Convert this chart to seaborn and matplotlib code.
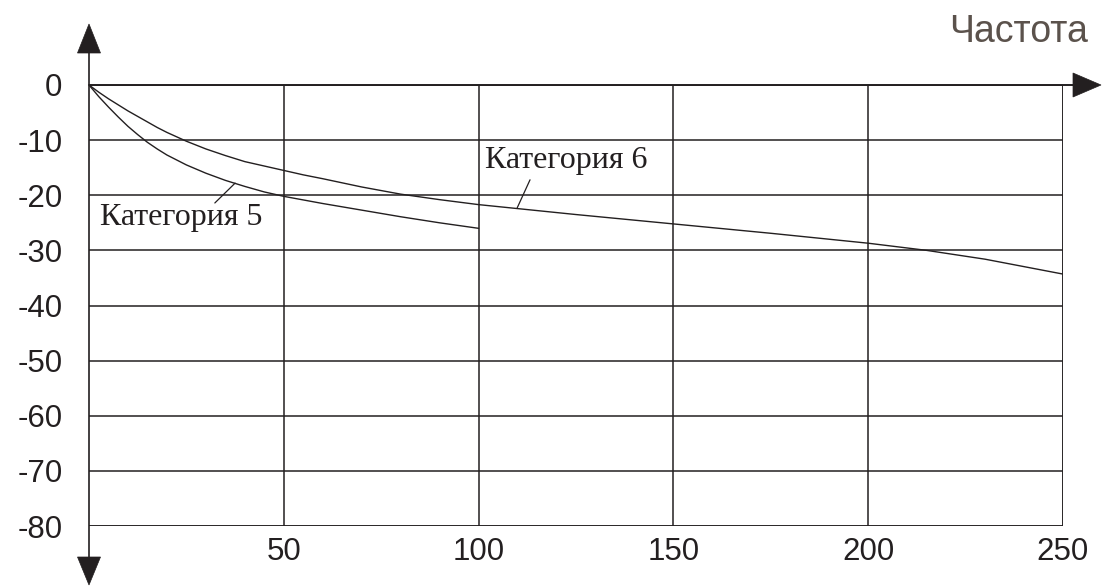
import matplotlib
matplotlib.use("Agg")
import matplotlib.pyplot as plt
from matplotlib.patches import Polygon
from matplotlib.lines import Line2D
import seaborn as sns
import pandas as pd

# ---- data ----
cat5_x = [0, 2.5, 5, 7.5, 10, 12.5, 15, 17.5, 20, 25, 30, 35, 40, 45, 50, 60, 70, 80, 90, 100]
cat5_y = [0, -2.1, -4.0, -5.8, -7.5, -9.0, -10.4, -11.6, -12.7, -14.5, -16.0, -17.3, -18.4, -19.4,
          -20.2, -21.5, -22.7, -23.9, -25.0, -26.0]

cat6_x = [0, 2.5, 5, 7.5, 10, 12.5, 15, 17.5, 20, 25, 30, 35, 40, 45, 50, 55, 60, 70, 80, 90, 100,
          125, 150, 175, 200, 215, 230, 250]
cat6_y = [0, -1.3, -2.5, -3.6, -4.7, -5.7, -6.7, -7.7, -8.6, -10.2, -11.6, -12.8, -13.9, -14.7,
          -15.5, -16.3, -17.0, -18.5, -19.8, -20.8, -21.7, -23.5, -25.2, -26.9, -28.7, -30.0,
          -31.6, -34.3]

x_ticks = [50, 100, 150, 200, 250]
x_labels = ["50", "100", "150", "200", "250"]
y_ticks = [0, -10, -20, -30, -40, -50, -60, -70, -80]
y_labels = ["0", "-10", "-20", "-30", "-40", "-50", "-60", "-70", "-80"]

series_names = ["Категория 5", "Категория 6"]
axis_title = "Частота"

# ---- style ----
sns.set_style("white")
plt.rcParams["font.family"] = ["Liberation Sans", "DejaVu Sans"]

INK = "#231f20"
W, H = 1102, 586
fig = plt.figure(figsize=(W / 100, H / 100), dpi=100)
fig.patch.set_facecolor("white")

def fx(px):
    return px / W

def fy(py):
    return (H - py) / H

ax = fig.add_axes([fx(89), fy(526), (1063 - 89) / W, (526 - 85) / H])

df5 = pd.DataFrame({"x": cat5_x, "y": cat5_y})
df6 = pd.DataFrame({"x": cat6_x, "y": cat6_y})
sns.lineplot(data=df5, x="x", y="y", ax=ax, color=INK, lw=1.0, legend=False, zorder=3)
sns.lineplot(data=df6, x="x", y="y", ax=ax, color=INK, lw=1.0, legend=False, zorder=3)

ax.set_xlim(0, 250)
ax.set_ylim(-80, 0)
ax.set_xticks(x_ticks)
ax.set_xticklabels(x_labels)
ax.set_yticks(y_ticks)
ax.set_yticklabels(y_labels)
ax.set_xlabel("")
ax.set_ylabel("")
for s in ax.spines.values():
    s.set_visible(False)
ax.grid(True, color=INK, lw=1.1)
ax.set_axisbelow(True)
ax.tick_params(axis="both", length=0, labelsize=22.5, colors=INK)
ax.tick_params(axis="y", pad=19)
ax.tick_params(axis="x", pad=8)
ax.axhline(-80, color=INK, lw=1.1, zorder=2)
ax.axvline(250, color=INK, lw=1.1, zorder=2)

# category labels (serif) with leader lines
serif = ["Liberation Serif", "DejaVu Serif"]
ax.text(2.8, -25.4, series_names[0], family=serif, fontsize=23, color=INK, va="baseline", ha="left")
ax.text(101.6, -15.1, series_names[1], family=serif, fontsize=23, color=INK, va="baseline", ha="left")
ax.plot([32.3, 37.5], [-21.4, -17.8], color=INK, lw=0.9, zorder=3)
ax.plot([109.9, 113.2], [-22.3, -17.2], color=INK, lw=0.9, zorder=3)

# axes with arrows in figure pixel coords
fig.add_artist(Line2D([fx(89), fx(89)], [fy(50), fy(560)], transform=fig.transFigure, color=INK, lw=1.2))
fig.add_artist(Line2D([fx(89), fx(1075)], [fy(85), fy(85)], transform=fig.transFigure, color=INK, lw=1.4))
up = [(fx(89), fy(24)), (fx(77.5), fy(53)), (fx(100.5), fy(53))]
down = [(fx(89), fy(585)), (fx(77.5), fy(557)), (fx(100.5), fy(557))]
right = [(fx(1101), fy(85)), (fx(1073), fy(73)), (fx(1073), fy(97))]
for pts in (up, down, right):
    fig.add_artist(Polygon(pts, closed=True, transform=fig.transFigure, facecolor=INK, edgecolor=INK, lw=0.5))

fig.text(fx(1088), fy(42), axis_title, ha="right", va="baseline", fontsize=27, color="#5b524c")

fig.savefig("out.png", dpi=100, facecolor="white")
